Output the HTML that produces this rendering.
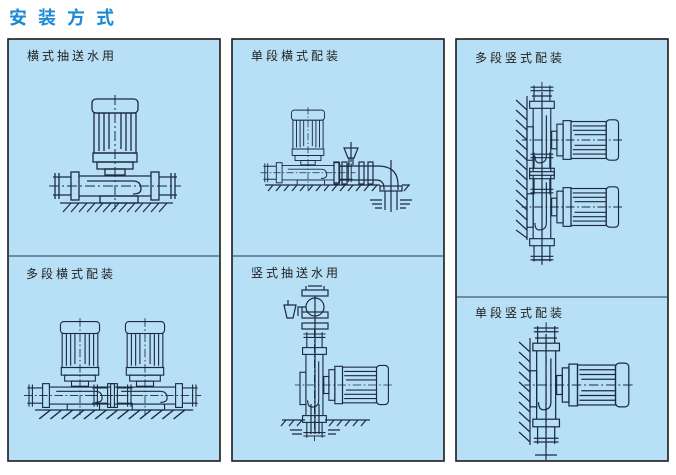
<!DOCTYPE html>
<html><head><meta charset="utf-8"><style>
html,body{margin:0;padding:0;background:#fff;width:676px;height:475px;overflow:hidden}
svg{display:block}
text{font-family:"Liberation Sans","Noto Sans CJK SC",sans-serif}
</style></head><body>
<svg width="676" height="475" viewBox="0 0 676 475" xmlns="http://www.w3.org/2000/svg">
<defs>
<g id="pump" fill="none" stroke="#1c2a40" stroke-width="1.3">
  <rect x="-23" y="-104" width="46" height="14" rx="4" fill="#b7dff5"/>
  <rect x="-21" y="-90" width="42" height="40"/>
  <path d="M-16-90V-52M-11-90V-52M-6-90V-54M6-90V-54M11-90V-52M16-90V-52"/>
  <rect x="-22" y="-50" width="44" height="9"/>
  <rect x="-18" y="-41" width="36" height="7"/>
  <rect x="-10" y="-34" width="20" height="6"/>
  <path d="M-36-27H36M-36-7H36M-28-22H18Q26-22 26-14Q26-9 18-9"/>
  <rect x="-44" y="-31" width="8" height="28"/>
  <rect x="36" y="-31" width="8" height="28"/>
  <path d="M-44-26H-62M-44-8H-62M44-26H62M44-8H62M-60-30V-4M-56-30V-4M56-30V-4M60-30V-4"/>
  <rect x="-15" y="-7" width="38" height="7"/>
  <path d="M0-108V6" stroke-dasharray="10 3 2 3" stroke-width="1"/>
  <path d="M-66-17H66" stroke-dasharray="10 3 2 3" stroke-width="1"/>
</g>
<g id="ground" fill="none" stroke="#1c2a40" stroke-width="1.2">
  <path d="M-55 0H58"/>
  <path d="M-52 9l8-9M-44 9l8-9M-36 9l8-9M-28 9l8-9M-20 9l8-9M-12 9l8-9M-4 9l8-9M4 9l8-9M12 9l8-9M20 9l8-9M28 9l8-9M36 9l8-9M44 9l8-9"/>
</g>
</defs>

<text x="9" y="24" font-size="18" font-weight="bold" fill="#1a8bd4" letter-spacing="11">安装方式</text>

<g fill="#b7dff5" stroke="#1a1a1a" stroke-width="1.6">
  <rect x="8" y="39" width="212" height="422"/>
  <rect x="232" y="39" width="212" height="422"/>
  <rect x="456" y="39" width="212" height="422"/>
</g>
<g stroke="#2a3a50" stroke-width="1">
  <path d="M8 256H220M232 256H444M456 297H668"/>
</g>

<g font-size="12" fill="#222" letter-spacing="3">
  <text x="27" y="60">横式抽送水用</text>
  <text x="26" y="278">多段横式配装</text>
  <text x="251" y="60">单段横式配装</text>
  <text x="251" y="277">竖式抽送水用</text>
  <text x="475" y="62">多段竖式配装</text>
  <text x="475" y="317">单段竖式配装</text>
</g>

<use href="#pump" transform="translate(115,203)"/>
<use href="#ground" transform="translate(115,203)"/>

<use href="#pump" transform="translate(80,410) scale(0.85)"/>
<use href="#pump" transform="translate(145,410) scale(0.85)"/>
<g transform="translate(112,410) scale(1.4,1)"><use href="#ground"/></g>

<use href="#pump" transform="translate(308,185) scale(0.72)"/>
<g fill="none" stroke="#1c2a40" stroke-width="1.2">
  <path d="M340 166H378Q398 166 398 185V190M340 180H376Q384 180 384 188V190"/>
  <rect x="334" y="162" width="5" height="22"/><rect x="342" y="162" width="5" height="22"/>
  <rect x="359" y="162" width="5" height="22"/><rect x="368" y="162" width="5" height="22"/>
  <path d="M344 148H358L354 158H348Z M349 158V165M353 158V165M351 142V162"/>
  <rect x="380" y="186" width="22" height="5"/>
  <path d="M385 191V210M397 191V210M391 160V212" />
  <path d="M265 185H380M402 185H410"/>
  <path d="M268 191l5-6M276 191l5-6M284 191l5-6M292 191l5-6M300 191l5-6M308 191l5-6M316 191l5-6M324 191l5-6M332 191l5-6M340 191l5-6M348 191l5-6M356 191l5-6M364 191l5-6M372 191l5-6M404 191l5-6"/>
  <path d="M370 200H382M372 204H382M375 208H382M400 200H412M400 204H410M400 208H406"/>
</g>

<use href="#pump" transform="translate(300,385) rotate(90) scale(0.85)"/>
<g fill="none" stroke="#1c2a40" stroke-width="1.2">
  <rect x="302" y="312" width="26" height="6"/><rect x="302" y="323" width="26" height="6"/>
  <rect x="302" y="290" width="26" height="6"/>
  <circle cx="315" cy="307" r="9"/>
  <path d="M306 307H298V316M302 307V312"/>
  <path d="M284 305H296L293 318H287Z"/>
  <path d="M288 300V305M315 296V434M311 404V434M319 404V434"/>
  <path d="M308 286H322M306 290V286M324 290V286"/>
  <path d="M282 420H305M325 420H370M281 426l5-6M289 426l5-6M297 426l5-6M329 426l5-6M337 426l5-6M345 426l5-6M353 426l5-6M361 426l5-6"/>
  <path d="M290 430H302M292 434H302M328 430H340M328 434H336"/>
</g>

<use href="#pump" transform="translate(527,140) rotate(90) scale(0.88)"/>
<use href="#pump" transform="translate(527,207) rotate(90) scale(0.88)"/>
<g fill="none" stroke="#1c2a40" stroke-width="1.2">
  <path d="M527 96V240"/>
  <path d="M516 100l11 10M516 110l11 10M516 120l11 10M516 130l11 10M516 140l11 10M516 150l11 10M516 160l11 10M516 170l11 10M516 180l11 10M516 190l11 10M516 200l11 10M516 210l11 10M516 220l11 10M516 230l11 8"/>
  <path d="M532 96H552M532 260H552M542 92V264"/>
</g>

<use href="#pump" transform="translate(530,385) rotate(90) scale(0.95)"/>
<g fill="none" stroke="#1c2a40" stroke-width="1.2">
  <path d="M530 338V445"/>
  <path d="M519 342l11 10M519 352l11 10M519 362l11 10M519 372l11 10M519 382l11 10M519 392l11 10M519 402l11 10M519 412l11 10M519 422l11 10M519 432l11 10"/>
  <path d="M535 338H557M535 455H557M546 334V460"/>
</g>
</svg>
</body></html>
